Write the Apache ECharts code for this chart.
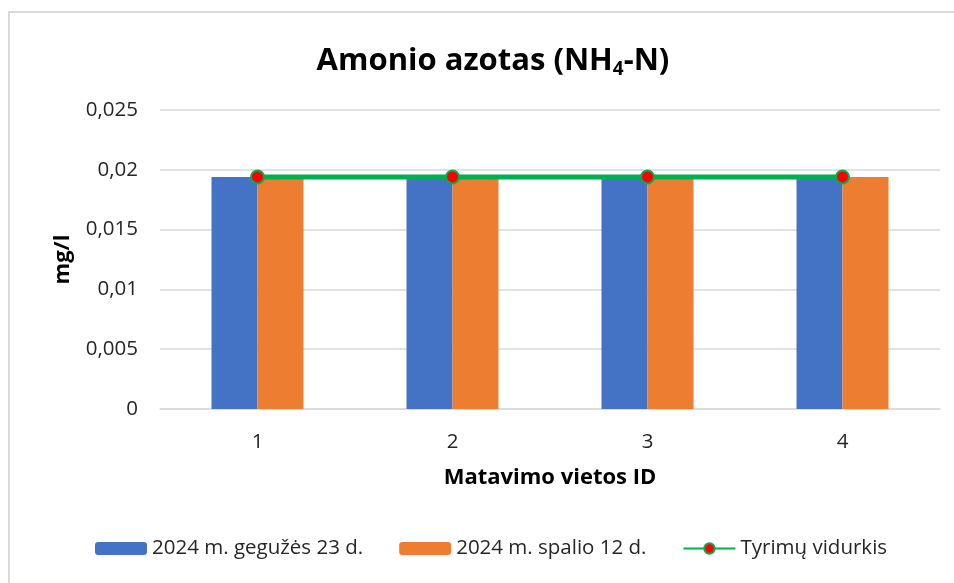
<!DOCTYPE html>
<html>
<head>
<meta charset="utf-8">
<script src="https://cdn.jsdelivr.net/npm/echarts@6/dist/echarts.min.js"></script>
<style>
  html, body { margin: 0; padding: 0; background: #fff; }
  #frame { position: absolute; left: 8px; top: 11px; width: 960px; height: 600px; border: 2px solid #D9D9D9; box-sizing: border-box; }
  #chart { position: absolute; left: 0; top: 0; width: 954px; height: 583px; }
</style>
</head>
<body>
<div id="frame"></div>
<div id="chart"></div>
<script>
// data
const sites = ['1', '2', '3', '4'];
const may2024 = [0.0194, 0.0194, 0.0194, 0.0194];
const oct2024 = [0.0194, 0.0194, 0.0194, 0.0194];
const average = [0.0194, 0.0194, 0.0194, 0.0194];
const seriesNames = ['2024 m. gegužės 23 d.', '2024 m. spalio 12 d.', 'Tyrimų vidurkis'];

const font = '"Open Sans", "Noto Sans", sans-serif';
const chart = echarts.init(document.getElementById('chart'));

const option = {
  animation: false,
  textStyle: { fontFamily: font },
  title: {
    text: '{t|Amonio azotas (NH}{s|4}{t|-N)}',
    left: 488,
    textAlign: 'center',
    top: 39,
    textStyle: {
      rich: {
        t: { fontSize: 31, fontWeight: 'bold', color: '#000', fontFamily: font },
        s: { fontSize: 19, fontWeight: 'bold', color: '#000', fontFamily: font, padding: [16, 0, 0, 0] }
      }
    }
  },
  legend: {
    bottom: 19,
    left: 90,
    itemWidth: 52,
    itemHeight: 13,
    itemGap: 36,
    textStyle: { fontSize: 20.5, color: '#262626', fontFamily: font },
    data: seriesNames
  },
  grid: { left: 160, right: 14, top: 110, bottom: 174 },
  xAxis: {
    type: 'category',
    data: sites,
    name: 'Matavimo vietos ID',
    nameLocation: 'middle',
    nameGap: 58,
    nameTextStyle: { fontSize: 22, fontWeight: 'bold', color: '#000' },
    axisLine: { lineStyle: { color: '#D9D9D9', width: 1.5 } },
    axisTick: { show: false },
    axisLabel: { fontSize: 20.5, color: '#262626', margin: 23 }
  },
  yAxis: {
    type: 'value',
    min: 0,
    max: 0.025,
    interval: 0.005,
    name: 'mg/l',
    nameLocation: 'middle',
    nameGap: 86,
    nameTextStyle: { fontSize: 22, fontWeight: 'bold', color: '#000' },
    axisLabel: {
      fontSize: 20.5,
      color: '#262626',
      margin: 22,
      formatter: v => String(+v.toFixed(3)).replace('.', ',')
    },
    splitLine: { lineStyle: { color: '#D9D9D9', width: 1.5 } }
  },
  series: [
    {
      name: seriesNames[0],
      type: 'bar',
      data: may2024,
      barWidth: 46,
      barGap: '0%',
      itemStyle: { color: '#4472C4' }
    },
    {
      name: seriesNames[1],
      type: 'bar',
      data: oct2024,
      barWidth: 46,
      itemStyle: { color: '#ED7D31' }
    },
    {
      name: seriesNames[2],
      type: 'line',
      data: average,
      symbol: 'circle',
      symbolSize: 13,
      lineStyle: { color: '#00B050', width: 5 },
      itemStyle: { color: '#FF0000', borderColor: '#00B050', borderWidth: 2 },
      z: 5
    }
  ]
};

chart.setOption(option);
</script>
</body>
</html>
